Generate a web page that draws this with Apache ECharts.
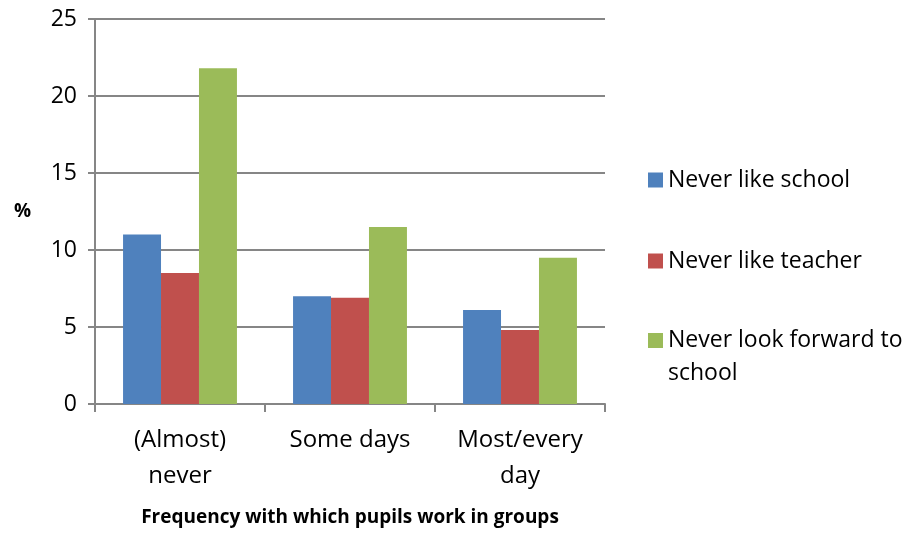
<!DOCTYPE html>
<html>
<head>
<meta charset="utf-8">
<script src="https://cdn.jsdelivr.net/npm/echarts@6/dist/echarts.min.js"></script>
<style>
  html, body { margin: 0; padding: 0; background: #fff; }
  #main { width: 910px; height: 534px; }
</style>
</head>
<body>
<div id="main"></div>
<script>
// categories on the x axis
var categories = ['(Almost)\nnever', 'Some days', 'Most/every\nday'];
// series (percent)
var neverLikeSchool = [11.0, 7.0, 6.1];
var neverLikeTeacher = [8.5, 6.9, 4.8];
var neverLookForward = [21.8, 11.5, 9.5];
var seriesNames = ['Never like school', 'Never like teacher', 'Never look forward to school'];

var font = 'Open Sans';
var axisGrey = '#868686';

var myChart = echarts.init(document.getElementById('main'));

var legendText = { fontFamily: font, fontSize: 23, color: '#000', lineHeight: 30 };

var option = {
    animation: false,
    color: ['#4F81BD', '#C0504D', '#9BBB59'],
    grid: {
        left: 95,
        right: 305,
        top: 19,
        bottom: 130
    },
    legend: [
        {
            data: [seriesNames[0]],
            left: 648, top: 165, padding: 0,
            icon: 'rect', itemWidth: 15, itemHeight: 15,
            textStyle: legendText
        },
        {
            data: [seriesNames[1]],
            left: 648, top: 246, padding: 0,
            icon: 'rect', itemWidth: 15, itemHeight: 15,
            textStyle: legendText
        },
        {
            data: [seriesNames[2]],
            left: 648, top: 291, padding: 0,
            icon: 'rect', itemWidth: 15, itemHeight: 15,
            // empty first line so the icon lines up with "Never look forward to"
            formatter: function (name) { return '\nNever look forward to\nschool'; },
            textStyle: { fontFamily: font, fontSize: 23, color: '#000', lineHeight: 33 }
        }
    ],
    xAxis: {
        type: 'category',
        data: categories,
        name: 'Frequency with which pupils work in groups',
        nameLocation: 'middle',
        nameGap: 104,
        nameTextStyle: { fontFamily: font, fontSize: 19, fontWeight: 'bold', color: '#000' },
        axisLine: { lineStyle: { color: axisGrey, width: 2 } },
        axisTick: { show: true, length: 8, lineStyle: { color: axisGrey, width: 2 } },
        axisLabel: { fontFamily: font, fontSize: 24, color: '#000', lineHeight: 36, margin: 18, interval: 0 }
    },
    yAxis: {
        type: 'value',
        min: 0,
        max: 25,
        interval: 5,
        name: '%',
        nameLocation: 'middle',
        nameRotate: 0,
        nameGap: 64,
        nameTextStyle: { fontFamily: font, fontSize: 19, fontWeight: 'bold', color: '#000' },
        axisLine: { show: true, lineStyle: { color: axisGrey, width: 2 } },
        axisTick: { show: true, length: 7, lineStyle: { color: axisGrey, width: 2 } },
        axisLabel: { fontFamily: font, fontSize: 23, color: '#000', margin: 18 },
        splitLine: { lineStyle: { color: axisGrey, width: 2 } }
    },
    series: [
        {
            name: seriesNames[0],
            type: 'bar',
            data: neverLikeSchool,
            barGap: '0%',
            barCategoryGap: '33%'
        },
        {
            name: seriesNames[1],
            type: 'bar',
            data: neverLikeTeacher,
            barGap: '0%',
            barCategoryGap: '33%'
        },
        {
            name: seriesNames[2],
            type: 'bar',
            data: neverLookForward,
            barGap: '0%',
            barCategoryGap: '33%'
        }
    ]
};

myChart.setOption(option);
</script>
</body>
</html>
